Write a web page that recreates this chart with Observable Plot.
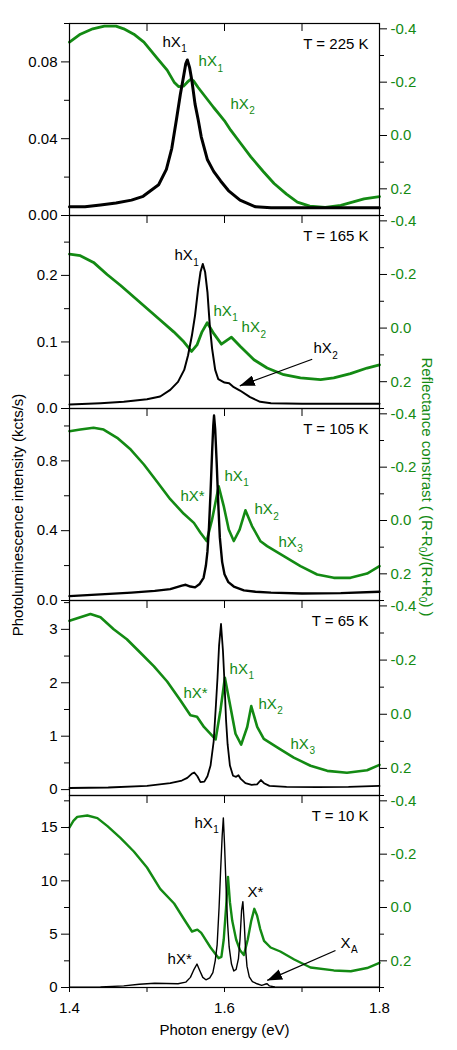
<!DOCTYPE html>
<html><head><meta charset="utf-8">
<script src="https://cdn.jsdelivr.net/npm/d3@7"></script>
<script src="https://cdn.jsdelivr.net/npm/@observablehq/plot@0.6"></script>
<style>
body{margin:0;background:#fff;font-family:"Liberation Sans",Arial,sans-serif;}
#chart{position:relative;width:457px;height:1050px;overflow:hidden;}
.layer{position:absolute;left:0;}
.ytitle{position:absolute;white-space:nowrap;font-size:15px;line-height:17px;transform:translate(-50%,-50%) rotate(-90deg);}
.ytitle sub{font-size:10px;vertical-align:-3px;line-height:0;}
</style></head><body><div id="chart"></div>
<script>
// ---------- DATA ----------
// T = 225 K
const plE225 = [1.400,1.420,1.440,1.460,1.480,1.495,1.505,1.515,1.525,1.532,1.538,1.543,1.547,1.550,1.552,1.555,1.558,1.562,1.566,1.570,1.578,1.586,1.595,1.605,1.620,1.640,1.660,1.700,1.750,1.800];
const plI225 = [0.0045,0.0045,0.0055,0.0065,0.008,0.010,0.013,0.016,0.024,0.035,0.050,0.063,0.072,0.079,0.081,0.077,0.070,0.058,0.050,0.041,0.029,0.023,0.018,0.013,0.008,0.0045,0.004,0.004,0.004,0.004];
const rcE225 = [1.400,1.414,1.430,1.445,1.460,1.470,1.483,1.496,1.513,1.526,1.535,1.541,1.547,1.552,1.556,1.560,1.566,1.578,1.586,1.593,1.600,1.608,1.621,1.634,1.650,1.664,1.680,1.694,1.710,1.730,1.750,1.765,1.780,1.800];
const rcV225 = [-0.35,-0.38,-0.40,-0.41,-0.41,-0.40,-0.38,-0.35,-0.29,-0.245,-0.20,-0.183,-0.185,-0.20,-0.21,-0.205,-0.18,-0.135,-0.105,-0.08,-0.055,-0.02,0.03,0.08,0.135,0.18,0.22,0.25,0.265,0.27,0.262,0.25,0.238,0.229];
// T = 165 K
const plE165 = [1.400,1.440,1.470,1.500,1.517,1.530,1.540,1.548,1.553,1.558,1.562,1.566,1.569,1.572,1.575,1.578,1.581,1.584,1.588,1.592,1.600,1.606,1.612,1.620,1.633,1.646,1.660,1.700,1.800];
const plI165 = [0.006,0.008,0.010,0.014,0.018,0.028,0.040,0.058,0.080,0.110,0.140,0.180,0.205,0.217,0.205,0.175,0.125,0.090,0.058,0.044,0.039,0.038,0.032,0.027,0.017,0.010,0.008,0.007,0.007];
const rcE165 = [1.400,1.414,1.431,1.4485,1.466,1.483,1.500,1.517,1.5345,1.5475,1.5575,1.5645,1.571,1.5777,1.586,1.596,1.609,1.6205,1.638,1.655,1.6765,1.698,1.724,1.741,1.7625,1.784,1.800];
const rcV165 = [-0.276,-0.27,-0.245,-0.20,-0.159,-0.116,-0.073,-0.030,0.014,0.051,0.087,0.063,0.014,-0.020,0.020,0.06,0.034,0.069,0.118,0.149,0.174,0.186,0.192,0.186,0.170,0.149,0.137];
// T = 105 K
const plE105 = [1.400,1.440,1.480,1.510,1.530,1.545,1.550,1.556,1.562,1.568,1.573,1.576,1.578,1.580,1.582,1.584,1.5855,1.5865,1.588,1.590,1.592,1.594,1.597,1.600,1.605,1.612,1.625,1.640,1.660,1.700,1.750,1.800];
const plI105 = [0.025,0.035,0.045,0.055,0.065,0.085,0.09,0.08,0.075,0.095,0.13,0.20,0.28,0.42,0.62,0.85,1.00,1.06,0.98,0.78,0.55,0.36,0.22,0.15,0.105,0.08,0.058,0.05,0.045,0.04,0.042,0.05];
const rcE105 = [1.400,1.414,1.431,1.444,1.4615,1.479,1.496,1.513,1.530,1.5475,1.5605,1.569,1.577,1.584,1.5925,1.599,1.6055,1.612,1.6195,1.627,1.6355,1.6465,1.655,1.6765,1.698,1.7195,1.741,1.7625,1.784,1.800];
const rcV105 = [-0.335,-0.341,-0.348,-0.341,-0.31,-0.266,-0.21,-0.145,-0.08,-0.025,0.009,0.046,0.077,-0.004,-0.128,-0.054,0.034,0.077,0.034,-0.038,0.021,0.078,0.096,0.134,0.171,0.2025,0.215,0.215,0.199,0.171];
// T = 65 K
const plE65 = [1.400,1.450,1.500,1.530,1.545,1.552,1.558,1.561,1.565,1.569,1.574,1.578,1.582,1.586,1.589,1.591,1.593,1.5955,1.598,1.600,1.602,1.604,1.607,1.611,1.615,1.618,1.621,1.627,1.635,1.642,1.647,1.651,1.658,1.680,1.720,1.760,1.800];
const plI65 = [0.03,0.04,0.07,0.12,0.17,0.22,0.30,0.32,0.25,0.14,0.15,0.25,0.45,0.90,1.60,2.10,2.70,3.10,2.60,2.00,1.30,0.85,0.45,0.26,0.24,0.27,0.20,0.12,0.09,0.10,0.18,0.12,0.07,0.05,0.045,0.05,0.07];
const rcE65 = [1.400,1.414,1.427,1.440,1.457,1.474,1.4915,1.509,1.526,1.543,1.556,1.5645,1.5735,1.5885,1.5948,1.6005,1.6077,1.6142,1.6215,1.6293,1.6345,1.6422,1.6507,1.668,1.6894,1.711,1.7325,1.758,1.784,1.800];
const rcV65 = [-0.345,-0.358,-0.37,-0.358,-0.314,-0.277,-0.227,-0.177,-0.121,-0.052,0.004,0.009,0.047,0.093,-0.015,-0.135,-0.027,0.072,0.112,0.047,-0.03,0.047,0.091,0.122,0.16,0.19,0.209,0.216,0.207,0.187];
// T = 10 K
const plE10 = [1.400,1.440,1.470,1.490,1.510,1.525,1.540,1.550,1.556,1.560,1.5645,1.568,1.572,1.576,1.581,1.585,1.588,1.5905,1.593,1.595,1.597,1.5985,1.600,1.602,1.604,1.606,1.609,1.612,1.615,1.618,1.620,1.622,1.6237,1.6255,1.627,1.629,1.632,1.636,1.642,1.648,1.652,1.655,1.658,1.665,1.700,1.800];
const plI10 = [0.02,0.05,0.15,0.30,0.40,0.38,0.35,0.50,0.95,1.60,2.20,1.60,0.95,0.72,0.90,1.40,2.50,4.00,7.50,11.0,14.2,15.9,13.5,9.5,6.0,3.8,2.2,1.55,1.70,2.70,4.50,7.20,8.05,6.00,3.80,2.00,1.00,0.55,0.35,0.20,0.30,0.35,0.15,0.05,0.03,0.02];
const rcE10 = [1.400,1.405,1.410,1.423,1.436,1.449,1.466,1.483,1.500,1.517,1.535,1.548,1.558,1.565,1.570,1.582,1.5925,1.596,1.599,1.602,1.6045,1.607,1.610,1.615,1.620,1.625,1.630,1.6345,1.6385,1.642,1.646,1.651,1.6595,1.672,1.690,1.711,1.741,1.763,1.784,1.800];
const rcV10 = [-0.30,-0.325,-0.34,-0.345,-0.335,-0.305,-0.26,-0.21,-0.15,-0.07,-0.015,0.045,0.09,0.083,0.095,0.15,0.19,0.185,0.12,0.00,-0.115,-0.02,0.05,0.12,0.16,0.178,0.12,0.05,0.005,0.03,0.08,0.125,0.15,0.165,0.195,0.225,0.236,0.239,0.227,0.208];

// peak labels (text, subscript, which axis) and arrows
const ann225 = [{e:1.520,v:0.0905,t:"hX",s:"1",on:"pl"},{e:1.5665,v:-0.2775,t:"hX",s:"1",on:"rc"},{e:1.6077,v:-0.118,t:"hX",s:"2",on:"rc"}];
const ann165 = [{e:1.5355,v:0.230,t:"hX",s:"1",on:"pl"},{e:1.5858,v:-0.063,t:"hX",s:"1",on:"rc"},{e:1.622,v:-0.002,t:"hX",s:"2",on:"rc"},{e:1.7148,v:0.090,t:"hX",s:"2",on:"pl"}];
const ann105 = [{e:1.5432,v:-0.092,t:"hX*",s:"",on:"rc"},{e:1.600,v:-0.167,t:"hX",s:"1",on:"rc"},{e:1.6387,v:-0.041,t:"hX",s:"2",on:"rc"},{e:1.6697,v:0.081,t:"hX",s:"3",on:"rc"}];
const ann65 = [{e:1.5471,v:-0.0785,t:"hX*",s:"",on:"rc"},{e:1.6065,v:-0.166,t:"hX",s:"1",on:"rc"},{e:1.6439,v:-0.039,t:"hX",s:"2",on:"rc"},{e:1.6852,v:0.110,t:"hX",s:"3",on:"rc"}];
const ann10 = [{e:1.5613,v:15.43,t:"hX",s:"1",on:"pl"},{e:1.6297,v:8.91,t:"X*",s:"",on:"pl"},{e:1.5265,v:2.63,t:"hX*",s:"",on:"pl"},{e:1.7497,v:4.17,t:"X",s:"A",on:"pl"}];
const arrows165 = [{e1:1.7132,v1:0.074,e2:1.6197,v2:0.034}];
const arrows10 = [{e1:1.7432,v1:3.47,e2:1.6551,v2:0.66}];

const temps = ["T = 225 K","T = 165 K","T = 105 K","T = 65 K","T = 10 K"];
const xMajor = [1.4,1.6,1.8], xMinor = [1.5,1.7], xInner = [1.5,1.6,1.7];
const rcMajor = [-0.4,-0.2,0.0,0.2], rcMinor = [-0.3,-0.1,0.1,0.3];
const xTitle = "Photon energy (eV)";

// ---------- LAYOUT ----------
const GREEN = "#138a13";
const FONT = "'Liberation Sans', Arial, sans-serif";
const W = 457, ML = 69, MR = 78;
const ctx = document.createElement("canvas").getContext("2d");
ctx.font = `15px ${FONT}`;
const tw = s => ctx.measureText(s).width;

function filledArrow(color) {
  const ns = "http://www.w3.org/2000/svg";
  const m = document.createElementNS(ns, "marker");
  m.setAttribute("viewBox", "-15 -5.5 15 11");
  m.setAttribute("markerWidth", 15);
  m.setAttribute("markerHeight", 11);
  m.setAttribute("markerUnits", "userSpaceOnUse");
  m.setAttribute("orient", "auto");
  const p = document.createElementNS(ns, "path");
  p.setAttribute("d", "M-15,-5.5L0,0L-15,5.5Z");
  p.setAttribute("fill", color);
  p.setAttribute("stroke", "none");
  m.appendChild(p);
  return m;
}

function annMarks(list, color) {
  const out = [];
  for (const a of list) {
    out.push(Plot.text([a], {x:"e", y:"v", text:"t", textAnchor:"start", fill:color, fontSize:15}));
    if (a.s) out.push(Plot.text([a], {x:"e", y:"v", text:"s", textAnchor:"start", fill:color, fontSize:10, dx: tw(a.t) + 0.5, dy: 7}));
  }
  return out;
}

const panels = [
  {plE:plE225, plI:plI225, rcE:rcE225, rcV:rcV225, ann:ann225, arrows:[], dom:[0,0.1], major:[0,0.04,0.08], minor:[0.02,0.06,0.10], fmt:d=>d.toFixed(2), top:0, h:192, mt:23, mb:0, bw:3.0, gw:2.8},
  {plE:plE165, plI:plI165, rcE:rcE165, rcV:rcV165, ann:ann165, arrows:arrows165, dom:[0,0.29], major:[0,0.1,0.2], minor:[0.05,0.15,0.25], fmt:d=>d.toFixed(1), top:215, h:193, mt:0, mb:0, bw:2.0, gw:2.8},
  {plE:plE105, plI:plI105, rcE:rcE105, rcV:rcV105, ann:ann105, arrows:[], dom:[0,1.1], major:[0,0.4,0.8], minor:[0.2,0.6,1.0], fmt:d=>d.toFixed(1), top:408, h:192, mt:0, mb:0, bw:2.4, gw:2.6},
  {plE:plE65, plI:plI65, rcE:rcE65, rcV:rcV65, ann:ann65, arrows:[], dom:[-0.11,3.54], major:[0,1,2,3], minor:[0.5,1.5,2.5,3.5], fmt:d=>d.toFixed(0), top:600, h:195, mt:0, mb:0, bw:1.8, gw:2.6},
  {plE:plE10, plI:plI10, rcE:rcE10, rcV:rcV10, ann:ann10, arrows:arrows10, dom:[0,18], major:[0,5,10,15], minor:[2.5,7.5,12.5,17.5], fmt:d=>d.toFixed(0), top:795, h:192, mt:0, mb:63, bw:1.4, gw:2.4}
];

const chart = document.getElementById("chart");
panels.forEach((p, i) => {
  const H = p.h + p.mt + p.mb;
  const last = i === panels.length - 1;
  const common = {width: W, height: H, marginLeft: ML, marginRight: MR, marginTop: p.mt, marginBottom: p.mb,
    style: `background: transparent; overflow: visible; font-family: ${FONT}; font-size: 15px; color: black;`};
  const plData = p.plE.map((e, k) => ({e, v: p.plI[k]}));
  const rcData = p.rcE.map((e, k) => ({e, v: p.rcV[k]}));
  const inRange = t => t >= Math.min(p.dom[0], p.dom[1]) - 1e-9 && t <= Math.max(p.dom[0], p.dom[1]) + 1e-9;

  const rc = Plot.plot({...common,
    x: {domain: [1.4, 1.8], axis: null},
    y: {domain: [0.3, -0.42]},
    marks: [
      Plot.axisY(rcMajor, {anchor: "right", tickSize: 7, tickPadding: 4, tickFormat: d => d.toFixed(1), color: GREEN, stroke: "black", label: null, fontSize: 15}),
      Plot.axisY(rcMinor, {anchor: "right", tickSize: 4, tickFormat: () => "", stroke: "black", label: null}),
      Plot.line(rcData, {x: "e", y: "v", stroke: GREEN, strokeWidth: p.gw, strokeLinejoin: "round"}),
      ...annMarks(p.ann.filter(a => a.on === "rc"), GREEN)
    ]
  });

  const plMarks = [
    Plot.axisY(p.major, {anchor: "left", tickSize: 8, tickPadding: 4, tickFormat: p.fmt, label: null, fontSize: 15}),
    Plot.axisY(p.minor.filter(inRange), {anchor: "left", tickSize: 5, tickFormat: () => "", label: null}),
    Plot.tickX(xInner, {insetBottom: p.h - 8, stroke: "black"}),
    Plot.line(plData, {x: "e", y: "v", stroke: "black", strokeWidth: p.bw, strokeLinejoin: "round"}),
    ...annMarks(p.ann.filter(a => a.on === "pl"), "black"),
    Plot.link(p.arrows, {x1: "e1", y1: "v1", x2: "e2", y2: "v2", stroke: "black", strokeWidth: 1.3, markerEnd: filledArrow}),
    Plot.text([temps[i]], {frameAnchor: "top-right", dx: -11, dy: 15, textAnchor: "end", fontSize: 15, fill: "black"}),
    Plot.frame({stroke: "black", strokeWidth: 1.2})
  ];
  if (last) {
    plMarks.push(
      Plot.axisX(xMajor, {anchor: "bottom", tickSize: 5, tickPadding: 10, tickFormat: d => d.toFixed(1), label: null, fontSize: 15}),
      Plot.axisX(xMinor, {anchor: "bottom", tickSize: 5, tickFormat: () => "", label: null}),
      Plot.text([xTitle], {frameAnchor: "bottom", dy: 47, fontSize: 15, fill: "black"})
    );
  }
  const pl = Plot.plot({...common,
    x: last ? {domain: [1.4, 1.8]} : {domain: [1.4, 1.8], axis: null},
    y: {domain: p.dom},
    marks: plMarks
  });

  for (const svg of [rc, pl]) {
    svg.classList.add("layer");
    svg.style.top = p.top + "px";
    chart.appendChild(svg);
  }
});

// rotated axis titles
const lt = document.createElement("div");
lt.className = "ytitle";
lt.style.left = "17px"; lt.style.top = "515px";
lt.textContent = "Photoluminescence intensity (kcts/s)";
chart.appendChild(lt);

const rt = document.createElement("div");
rt.className = "ytitle";
rt.style.left = "427px"; rt.style.top = "487px";
rt.style.color = GREEN;
rt.style.transform = "translate(-50%,-50%) rotate(90deg)";
rt.innerHTML = "Reflectance constrast ( (R-R<sub>0</sub>)/(R+R<sub>0</sub>) )";
chart.appendChild(rt);
</script></body></html>
